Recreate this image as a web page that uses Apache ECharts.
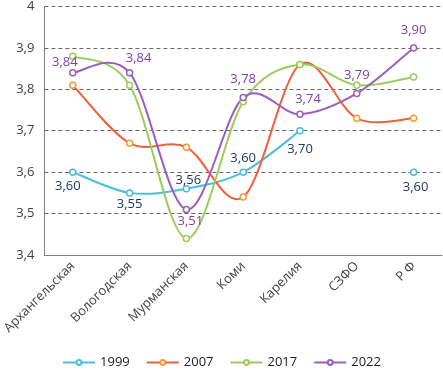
<!DOCTYPE html>
<html>
<head>
<meta charset="utf-8">
<script src="https://cdn.jsdelivr.net/npm/echarts@6/dist/echarts.min.js"></script>
<style>
  html, body { margin: 0; padding: 0; background: #fff; }
  #chart { width: 443px; height: 371px; }
</style>
</head>
<body>
<div id="chart"></div>
<script>
// категории и значения
const regions = ['Архангельская', 'Вологодская', 'Мурманская', 'Коми', 'Карелия', 'СЗФО', 'Р Ф'];
const years = ['1999', '2007', '2017', '2022'];
const v1999 = [3.60, 3.55, 3.56, 3.60, 3.70, null, 3.60];
const v2007 = [3.81, 3.67, 3.66, 3.54, 3.86, 3.73, 3.73];
const v2017 = [3.88, 3.81, 3.44, 3.77, 3.86, 3.81, 3.83];
const v2022 = [3.84, 3.84, 3.51, 3.78, 3.74, 3.79, 3.90];
const yTicks = ['3,4', '3,5', '3,6', '3,7', '3,8', '3,9', '4'];

const lineColors = ['#4BBDE0', '#F0603C', '#9CCC5E', '#9A5EC0'];
const markColors = ['#4BBDE0', '#F39A3A', '#9CCC5E', '#9A5EC0'];
const allValues = [v1999, v2007, v2017, v2022];

const fmt = (p) => p.value == null ? '' : p.value.toFixed(2).replace('.', ',');

const chart = echarts.init(document.getElementById('chart'));

// сглаженная линия как в Excel (Catmull-Rom), точки через api.coord
const smoothSeries = (arr, color) => ({
  type: 'custom',
  name: 'curve',
  silent: true,
  encode: { x: 0, y: 1 },
  data: arr.map((v, i) => [i, v]),
  renderItem: (params, api) => {
    const i = params.dataIndex;
    if (i >= arr.length - 1 || arr[i] == null || arr[i + 1] == null) return null;
    const p1 = api.coord([i, arr[i]]);
    const p2 = api.coord([i + 1, arr[i + 1]]);
    const p0 = (i > 0 && arr[i - 1] != null) ? api.coord([i - 1, arr[i - 1]]) : p1;
    const p3 = (i + 2 < arr.length && arr[i + 2] != null) ? api.coord([i + 2, arr[i + 2]]) : p2;
    return {
      type: 'bezierCurve',
      shape: {
        x1: p1[0], y1: p1[1],
        x2: p2[0], y2: p2[1],
        cpx1: p1[0] + (p2[0] - p0[0]) / 6, cpy1: p1[1] + (p2[1] - p0[1]) / 6,
        cpx2: p2[0] - (p3[0] - p1[0]) / 6, cpy2: p2[1] - (p3[1] - p1[1]) / 6
      },
      style: { stroke: color, lineWidth: 2, fill: null }
    };
  }
});

const mkSeries = (k) => ({
  name: years[k],
  type: 'line',
  data: allValues[k],
  symbol: 'circle',
  symbolSize: 6,
  connectNulls: false,
  lineStyle: { color: lineColors[k], width: 2, opacity: 0 },
  itemStyle: { color: '#fff', borderColor: markColors[k], borderWidth: 1.5 },
  emphasis: { disabled: true }
});

// сдвиги подписей от точки
const off1999 = [[-5, 14], [0, 11], [2, -8], [0, -14], [0, 19], [0, 0], [2, 15]];
const off2022 = [[-8, -10], [9, -14], [4, 12], [0, -18], [8, -15], [0, -18], [0, -18]];

const withLabels = (s, arr, offs, color) => {
  s.data = arr.map((v, i) => ({
    value: v,
    label: { show: v != null, position: 'inside', offset: offs[i] }
  }));
  s.label = { color: color, fontSize: 13, formatter: fmt };
  return s;
};

const option = {
  animation: false,
  textStyle: { fontFamily: 'Open Sans' },
  grid: { left: 41, right: 1, top: 5, bottom: 116 },
  legend: {
    bottom: -3,
    left: 'center',
    itemWidth: 32,
    itemHeight: 6,
    itemGap: 16,
    textStyle: { fontSize: 13, color: '#222' },
    data: years.map((y, k) => ({
      name: y,
      lineStyle: { color: lineColors[k], width: 2, opacity: 1 }
    }))
  },
  xAxis: {
    type: 'category',
    data: regions,
    boundaryGap: true,
    axisLine: { lineStyle: { color: '#808080' } },
    axisTick: { lineStyle: { color: '#808080' } },
    axisLabel: { rotate: 45, color: '#404040', fontSize: 13, margin: 9 }
  },
  yAxis: {
    type: 'value',
    min: 3.4,
    max: 4,
    interval: 0.1,
    axisLine: { show: true, lineStyle: { color: '#808080' } },
    axisTick: { show: false },
    axisLabel: {
      color: '#404040',
      fontSize: 13,
      margin: 10,
      formatter: (v) => yTicks[Math.round((v - 3.4) * 10)]
    },
    splitLine: { lineStyle: { color: '#666', type: [4, 3] } }
  },
  series: [
    smoothSeries(v1999, lineColors[0]),
    smoothSeries(v2007, lineColors[1]),
    smoothSeries(v2017, lineColors[2]),
    smoothSeries(v2022, lineColors[3]),
    withLabels(mkSeries(0), v1999, off1999, '#1F3864'),
    mkSeries(1),
    mkSeries(2),
    withLabels(mkSeries(3), v2022, off2022, '#7A3FA8')
  ]
};

chart.setOption(option);
</script>
</body>
</html>
